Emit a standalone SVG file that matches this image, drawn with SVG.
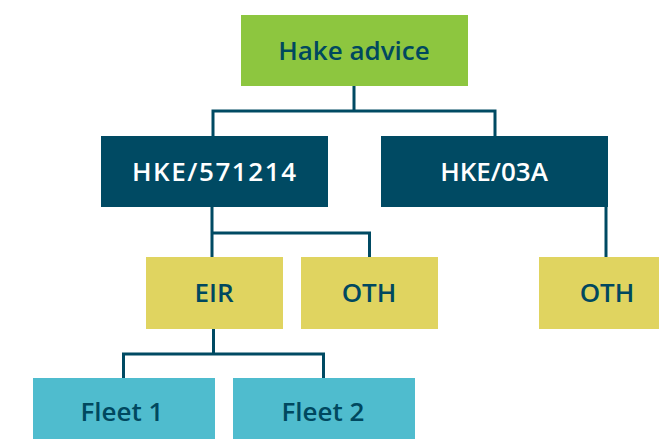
<svg xmlns="http://www.w3.org/2000/svg" width="659" height="439" viewBox="0 0 659 439">
  <style>
    .label { font-family: "Open Sans", "Liberation Sans", sans-serif; font-weight: 600; font-size: 26px; text-anchor: middle; dominant-baseline: central; }
    .dark { fill: #00485f; }
    .light { fill: #ffffff; }
    .root { fill: #8dc63f; }
    .stock { fill: #004a63; }
    .area { fill: #e0d460; }
    .fleet { fill: #4fbcce; }
    .link { fill: none; stroke: #004a63; stroke-width: 3; }
  </style>
  <rect width="659" height="439" fill="#ffffff"/>

  <!-- connectors -->
  <g id="connectors">
    <path class="link" d="M354 86 V111 M213 136 V111 H495 V136"/>
    <path class="link" d="M212 207 V257 M212 233 H369.5 V257"/>
    <path class="link" d="M606 207 V257"/>
    <path class="link" d="M213.5 329 V354 M123.5 378 V354 H323.5 V378"/>
  </g>

  <g id="hake-advice">
    <rect class="root" x="241" y="15" width="227" height="71"/>
    <text class="label dark" x="354" y="50">Hake advice</text>
  </g>
  <g id="hke-571214">
    <rect class="stock" x="101" y="136" width="227" height="71"/>
    <text class="label light" x="214" y="171" textLength="164">HKE/571214</text>
  </g>
  <g id="hke-03a">
    <rect class="stock" x="381" y="136" width="227" height="71"/>
    <text class="label light" x="494" y="171">HKE/03A</text>
  </g>
  <g id="eir">
    <rect class="area" x="146" y="257" width="137" height="72"/>
    <text class="label dark" x="214" y="292">EIR</text>
  </g>
  <g id="oth-1">
    <rect class="area" x="301" y="257" width="137" height="72"/>
    <text class="label dark" x="369" y="292">OTH</text>
  </g>
  <g id="oth-2">
    <rect class="area" x="539" y="257" width="120" height="72"/>
    <text class="label dark" x="607" y="292">OTH</text>
  </g>
  <g id="fleet-1">
    <rect class="fleet" x="33" y="378" width="182" height="61"/>
    <text class="label dark" x="122" y="411">Fleet 1</text>
  </g>
  <g id="fleet-2">
    <rect class="fleet" x="233" y="378" width="182" height="61"/>
    <text class="label dark" x="323" y="411">Fleet 2</text>
  </g>
</svg>
